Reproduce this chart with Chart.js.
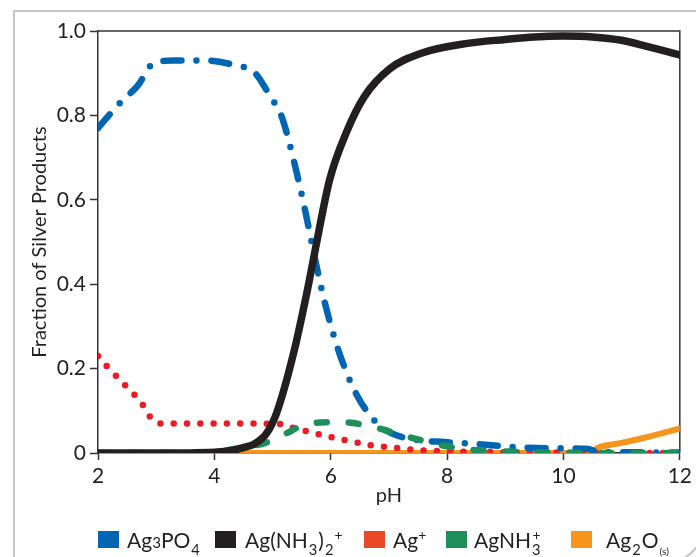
<!DOCTYPE html>
<html>
<head>
<meta charset="utf-8">
<script src="https://cdn.jsdelivr.net/npm/chart.js@4/dist/chart.umd.min.js"></script>
<style>
  body { margin: 0; background: #fff; font-family: Lato, sans-serif; color: #231f20; }
  #wrap { position: relative; width: 696px; height: 557px; overflow: hidden; }
  #frame { position: absolute; left: 13px; top: 10px; width: 688px; height: 550px;
           border: 2px solid #c4c4c4; border-bottom-right-radius: 40px; }
  canvas { position: absolute; left: 0; top: 0; }
  .item { position: absolute; top: 527px; font-size: 21px; line-height: 26px; white-space: nowrap; }
  .sq { position: absolute; top: 531px; width: 21px; height: 17px; }
  .sm { font-size: 72%; vertical-align: 0; }
  .lo { font-size: 70%; position: relative; top: 7px; margin: 0 1px; }
  .hi { font-size: 66%; position: relative; top: -8px; }
</style>
</head>
<body>
<div id="wrap">
  <div id="frame"></div>
  <canvas id="grafica" width="696" height="557"></canvas>
  <div id="leyenda"></div>
</div>
<script>
// pH values read for each curve, then the fraction at those points
const phAg3PO4 = [2, 2.38, 2.68, 2.96, 3.3, 3.88, 4.32, 4.7, 4.96, 5.15, 5.37, 5.56, 5.73, 5.91, 6.14, 6.45, 6.8, 7.04, 7.47, 7.95, 8.41, 9.32, 10.0, 10.4, 10.6, 11, 12];
const ag3po4   = [0.77, 0.83, 0.87, 0.924, 0.93, 0.93, 0.92, 0.90, 0.845, 0.80, 0.69, 0.575, 0.46, 0.35, 0.24, 0.137, 0.07, 0.047, 0.031, 0.026, 0.022, 0.013, 0.011, 0.010, 0.003, 0.002, 0.001];

const phDiamina = [2, 3, 4, 4.3, 4.56, 4.67, 4.9, 5.07, 5.35, 5.59, 5.76, 5.98, 6.27, 6.58, 7.01, 7.57, 8.32, 9, 9.5, 10, 10.5, 11, 11.45, 12];
const diamina   = [0, 0, 0.002, 0.006, 0.015, 0.02, 0.047, 0.095, 0.23, 0.38, 0.50, 0.647, 0.76, 0.845, 0.91, 0.948, 0.97, 0.98, 0.986, 0.988, 0.986, 0.978, 0.963, 0.943];

const phAgLibre = [2, 2.15, 2.45, 2.77, 2.87, 3.06, 4, 5.13, 5.35, 5.78, 6.23, 6.67, 7.13, 7.5, 8, 9, 10, 11, 12];
const agLibre   = [0.23, 0.206, 0.163, 0.114, 0.09, 0.07, 0.07, 0.069, 0.06, 0.045, 0.031, 0.019, 0.012, 0.007, 0.004, 0.002, 0.001, 0, 0];

const phMonoamina = [2, 4, 4.27, 4.6, 4.9, 5.18, 5.67, 6.2, 6.72, 7.23, 7.73, 8.24, 8.77, 9.5, 10, 11, 12];
const monoamina   = [0, 0.001, 0.008, 0.015, 0.025, 0.043, 0.071, 0.073, 0.062, 0.042, 0.024, 0.01, 0.005, 0.002, 0.001, 0, 0];

const phOxido = [2, 10.45, 10.6, 11, 11.45, 12];
const oxido   = [0, 0, 0.013, 0.024, 0.038, 0.058];

const yTicks = [0, 0.2, 0.4, 0.6, 0.8, 1.0];
const xTicks = [2, 4, 6, 8, 10, 12];

const legendLabels = [
  'Ag<span class="sm">3</span>PO<span class="lo">4</span>',
  'Ag(NH<span class="lo">3</span>)<span class="lo">2</span><span class="hi">+</span>',
  'Ag<span class="hi">+</span>',
  'AgNH<span class="lo">3</span><span class="hi" style="margin-left:-9px">+</span>',
  'Ag<span class="lo">2</span>O<span class="lo" style="font-size:48%">(s)</span>'
];
const legendColors = ['#0066b3', '#231f20', '#e84a27', '#1e8f5a', '#f7941d'];
const legendSq = [98, 215, 364, 446, 571];
const legendTx = [127, 245, 393, 474, 606];

const juntar = (xs, ys) => xs.map((x, i) => ({x: x, y: ys[i]}));

const leyenda = document.getElementById('leyenda');
legendLabels.forEach((txt, i) => {
  const sq = document.createElement('div');
  sq.className = 'sq';
  sq.style.left = legendSq[i] + 'px';
  sq.style.background = legendColors[i];
  leyenda.appendChild(sq);
  const t = document.createElement('div');
  t.className = 'item';
  t.style.left = legendTx[i] + 'px';
  t.innerHTML = txt;
  leyenda.appendChild(t);
});

// top and right edges of the plot box
const marco = {
  id: 'marco',
  beforeDatasetsDraw(chart) {
    const {ctx, chartArea: a} = chart;
    ctx.save();
    ctx.strokeStyle = '#333';
    ctx.lineWidth = 1.5;
    ctx.beginPath();
    ctx.moveTo(a.left, a.top);
    ctx.lineTo(a.right, a.top);
    ctx.lineTo(a.right, a.bottom);
    ctx.stroke();
    ctx.restore();
  }
};

const base = {
  pointRadius: 0,
  fill: false,
  cubicInterpolationMode: 'monotone',
  borderCapStyle: 'round',
  borderJoinStyle: 'round'
};

const fuente = { family: 'Lato', size: 21 };

new Chart(document.getElementById('grafica').getContext('2d'), {
  type: 'line',
  data: {
    datasets: [
      { ...base, label: 'Ag(NH3)2+', data: juntar(phDiamina, diamina), borderColor: '#231f20', borderWidth: 7.5, order: 0 },
      { ...base, label: 'AgNH3+', data: juntar(phMonoamina, monoamina), borderColor: '#1e8f5a', borderWidth: 6.5, borderDash: [10, 22], order: 1 },
      { ...base, label: 'Ag3PO4', data: juntar(phAg3PO4, ag3po4), borderColor: '#0066b3', borderWidth: 6.5, borderDash: [18, 15, 0, 15], order: 2 },
      { ...base, label: 'Ag+', data: juntar(phAgLibre, agLibre), borderColor: '#ed1c24', borderWidth: 6.5, borderDash: [0, 13.3], order: 3 },
      { ...base, label: 'Ag2O(s)', data: juntar(phOxido, oxido), borderColor: '#f7941d', borderWidth: 6, order: 4 }
    ]
  },
  options: {
    responsive: false,
    animation: false,
    layout: { padding: { left: 24, right: 14, top: 31, bottom: 45 } },
    plugins: { legend: { display: false }, tooltip: { enabled: false } },
    scales: {
      x: {
        type: 'linear', min: 2, max: 12,
        afterFit: (s) => { s.height = 59; },
        afterBuildTicks: (s) => { s.ticks = xTicks.map(v => ({value: v})); },
        grid: { drawOnChartArea: false, tickLength: 7, color: '#333', tickWidth: 1.5 },
        border: { color: '#333', width: 1.5 },
        ticks: { color: '#231f20', font: fuente, padding: 4, maxRotation: 0 },
        title: { display: true, text: 'pH', color: '#231f20', font: { family: 'Lato', size: 20 }, padding: 4 }
      },
      y: {
        min: 0, max: 1,
        afterFit: (s) => { s.width = 74; },
        afterBuildTicks: (s) => { s.ticks = yTicks.map(v => ({value: v})); },
        grid: { drawOnChartArea: false, tickLength: 8, color: '#333', tickWidth: 1.5 },
        border: { color: '#333', width: 1.5 },
        ticks: { color: '#231f20', font: fuente, padding: 4,
                 callback: (v) => v === 0 ? '0' : v.toFixed(1) },
        title: { display: true, text: 'Fraction of Silver Products', color: '#231f20', font: { family: 'Lato', size: 20 }, padding: 4 }
      }
    }
  },
  plugins: [marco]
});
</script>
</body>
</html>
